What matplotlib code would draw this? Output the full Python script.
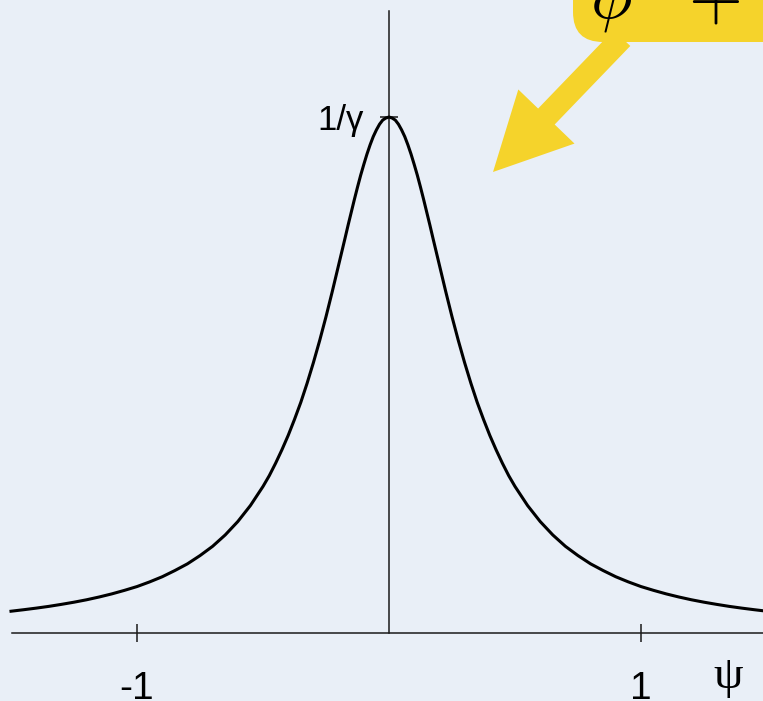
import matplotlib
matplotlib.use("Agg")
import matplotlib.pyplot as plt
import matplotlib.patches as mpatches
import numpy as np

# curve samples for psi >= 0 (height relative to the peak value 1/gamma)
psi_half = [0.0, 0.0125, 0.025, 0.0375, 0.05, 0.0625, 0.075, 0.0875, 0.1, 0.1125,
            0.125, 0.1375, 0.15, 0.1625, 0.175, 0.2, 0.225, 0.25, 0.275, 0.3,
            0.325, 0.35, 0.375, 0.4, 0.425, 0.45, 0.475, 0.5, 0.55, 0.6, 0.65,
            0.7, 0.75, 0.8, 0.85, 0.9, 0.95, 1.0, 1.05, 1.1, 1.15, 1.2, 1.25,
            1.3, 1.35, 1.4, 1.45, 1.5]
height_half = [1.000, 0.998, 0.994, 0.986, 0.975, 0.962, 0.946, 0.928, 0.908, 0.887,
               0.864, 0.840, 0.815, 0.790, 0.764, 0.713, 0.662, 0.613, 0.567, 0.524,
               0.484, 0.447, 0.414, 0.383, 0.355, 0.329, 0.305, 0.284, 0.247, 0.216,
               0.190, 0.168, 0.150, 0.134, 0.121, 0.109, 0.0990, 0.0900, 0.0826,
               0.0758, 0.0698, 0.0644, 0.0597, 0.0555, 0.0516, 0.0482, 0.0451, 0.0422]
x_ticks = [-1, 1]
x_tick_labels = ["-1", "1"]
y_ticks = [1]
y_tick_labels = ["1/\u03b3"]

# curve is symmetric about psi = 0
psi = np.array([-p for p in psi_half[:0:-1]] + psi_half)
height = np.array(height_half[:0:-1] + height_half)

W, H = 763, 701
bg = "#e9eff7"
yellow = "#f5d32b"

plt.rcParams["font.family"] = ["Liberation Sans", "DejaVu Sans"]
plt.rcParams["mathtext.fontset"] = "cm"

fig = plt.figure(figsize=(W / 100, H / 100), dpi=100, facecolor=bg)
ax = fig.add_axes([0, 0, 1, 1])
ax.set_facecolor("none")

# pixel layout: origin at (389, 633), 252 px per unit in psi, peak at y=117
x0, y0, sx, sy = 389, 633, 252, 516
ax.set_xlim(-x0 / sx, (W - x0) / sx)
ax.set_ylim(-(H - y0) / sy, y0 / sy)

ax.plot(psi, height, color="black", lw=2.2, solid_joinstyle="round", zorder=3)

# axes through the origin
for s in ["top", "right"]:
    ax.spines[s].set_visible(False)
ax.spines["left"].set_position(("data", 0))
ax.spines["bottom"].set_position(("data", 0))
ax.spines["left"].set_bounds(0, (y0 - 11) / sy)
ax.spines["bottom"].set_bounds(-(x0 - 12) / sx, 2)
for s in ["left", "bottom"]:
    ax.spines[s].set_linewidth(1.1)
    ax.spines[s].set_color("#1a1a1a")

ax.set_xticks(x_ticks)
ax.set_xticklabels(x_tick_labels)
ax.set_yticks(y_ticks)
ax.set_yticklabels(y_tick_labels)
ax.tick_params(axis="x", direction="inout", length=13, width=1.1, color="#1a1a1a",
               labelsize=28, pad=21)
ax.tick_params(axis="y", direction="inout", length=12.5, width=1.1, color="#1a1a1a",
               labelsize=25, pad=12)

ax.text(1.345, -0.085, "\u03c8", fontsize=34, family=["Liberation Serif", "DejaVu Serif"],
        ha="center", va="center")

# callout in pixel coordinates
ov = fig.add_axes([0, 0, 1, 1])
ov.set_xlim(0, W)
ov.set_ylim(H, 0)
ov.axis("off")
ov.patch.set_visible(False)

arrow = mpatches.FancyArrow(622, 38, -129, 134, width=23, head_width=78, head_length=77,
                            length_includes_head=True, color=yellow, lw=0)
ov.add_patch(arrow)
box = mpatches.FancyBboxPatch((573, -80), 300, 122,
                              boxstyle="round,pad=0,rounding_size=30",
                              facecolor=yellow, edgecolor="none")
ov.add_patch(box)
ov.text(590, 18, r"$\phi$", fontsize=50, ha="left", va="baseline", color="black")
ov.text(688, 18, r"$+$", fontsize=50, ha="left", va="baseline", color="black")

fig.savefig("out.png", dpi=100, facecolor=bg)
